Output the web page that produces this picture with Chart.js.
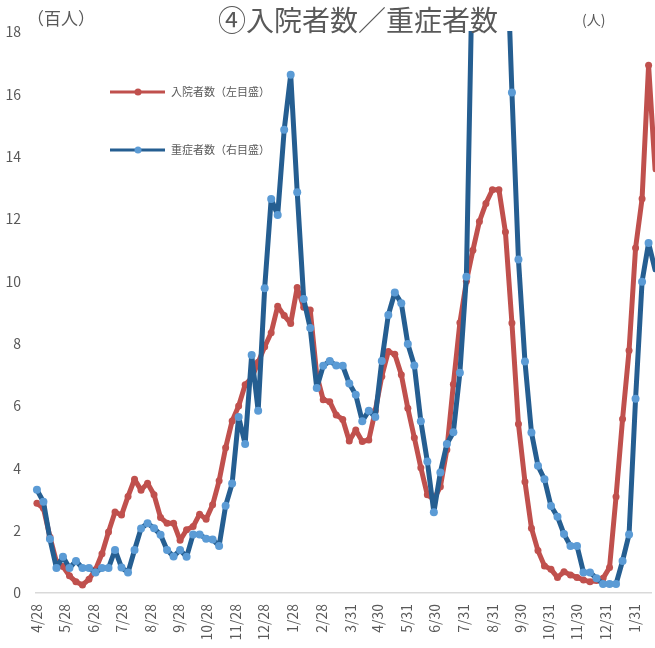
<!DOCTYPE html>
<html lang="ja">
<head>
<meta charset="utf-8">
<title>④入院者数／重症者数</title>
<script src="https://cdn.jsdelivr.net/npm/chart.js@4.4.1/dist/chart.umd.min.js"></script>
<style>
  html, body { margin: 0; padding: 0; background: #fff; overflow: hidden; }
  #wrap { width: 655px; height: 648px; position: relative; }
</style>
</head>
<body>
<div id="wrap"><canvas id="chart"></canvas></div>
<script>
// weekly values, first week = 2020/4/28
const startDate = '2020-04-28';

// 入院者数 (百人) - left axis
const inpatients = [
  2.88, 2.72, 1.8, 1.0, 0.85, 0.55, 0.36, 0.26, 0.44, 0.75,
  1.26, 1.96, 2.6, 2.5, 3.1, 3.65, 3.3, 3.52, 3.15, 2.42,
  2.24, 2.24, 1.69, 2.03, 2.13, 2.53, 2.37, 2.83, 3.6, 4.66,
  5.52, 6.0, 6.68, 6.9, 7.4, 7.9, 8.35, 9.2, 8.9, 8.65,
  9.8, 9.17, 9.08, 7.0, 6.2, 6.14, 5.71, 5.57, 4.88, 5.23,
  4.86, 4.91, 5.85, 6.95, 7.75, 7.66, 7.0, 5.93, 4.98, 4.02,
  3.15, 3.0, 3.41, 4.6, 6.7, 8.67, 10.0, 11.0, 11.92, 12.5,
  12.94, 12.94, 11.58, 8.66, 5.42, 3.57, 2.08, 1.36, 0.87, 0.76,
  0.5, 0.68, 0.58, 0.5, 0.42, 0.36, 0.4, 0.47, 0.82, 3.09,
  5.58, 7.78, 11.07, 12.65, 16.93, 13.58
];

// 重症者数 - right axis (read in left-axis units, right ticks are cut off)
const severe = [
  3.31, 2.93, 1.73, 0.8, 1.16, 0.8, 1.03, 0.8, 0.8, 0.66,
  0.8, 0.8, 1.38, 0.82, 0.66, 1.38, 2.07, 2.24, 2.08, 1.87,
  1.38, 1.17, 1.38, 1.16, 1.88, 1.88, 1.74, 1.72, 1.51, 2.8,
  3.51, 5.65, 4.78, 7.64, 5.85, 9.78, 12.64, 12.13, 14.86, 16.63,
  12.86, 9.43, 8.5, 6.58, 7.29, 7.44, 7.3, 7.29, 6.72, 6.36,
  5.51, 5.85, 5.65, 7.44, 8.92, 9.64, 9.3, 7.99, 7.3, 5.51,
  4.22, 2.59, 3.87, 4.78, 5.16, 7.07, 10.15, 21, 24, 26,
  27, 25, 22, 16.06, 10.7, 7.43, 5.15, 4.08, 3.65, 2.79,
  2.45, 1.89, 1.51, 1.51, 0.66, 0.66, 0.47, 0.29, 0.29, 0.29,
  1.03, 1.88, 6.23, 9.99, 11.23, 10.37
];

// dates shown on the x axis
const tickDates = [
  '2020-04-28', '2020-05-28', '2020-06-28', '2020-07-28', '2020-08-28',
  '2020-09-28', '2020-10-28', '2020-11-28', '2020-12-28', '2021-01-28',
  '2021-02-28', '2021-03-31', '2021-04-30', '2021-05-31', '2021-06-30',
  '2021-07-31', '2021-08-31', '2021-09-30', '2021-10-31', '2021-11-30',
  '2021-12-31', '2022-01-31'
];

const titleText = '④入院者数／重症者数';
const leftUnit = '（百人）';
const rightUnit = '(人)';

const FONT = '"Noto Sans CJK JP", "Noto Sans", sans-serif';
const TEXT = '#595959';
const DAY = 86400000;

function daysFromStart(s) {
  return (Date.parse(s) - Date.parse(startDate)) / DAY;
}
const tickDays = tickDates.map(daysFromStart);
const tickLabels = tickDates.map(s => {
  const [, m, d] = s.split('-');
  return Number(m) + '/' + Number(d);
});

const chartTexts = {
  id: 'chartTexts',
  afterDraw(chart) {
    const c = chart.ctx;
    const area = chart.chartArea;
    c.save();
    c.fillStyle = TEXT;
    c.textBaseline = 'middle';

    c.font = '28px ' + FONT;
    c.textAlign = 'center';
    c.fillText(titleText, 358, 20);

    c.textAlign = 'left';
    c.font = '17px ' + FONT;
    c.fillText(leftUnit, 27, 19);
    c.font = '14px ' + FONT;
    c.fillText(rightUnit, 582, 20);

    // legend inside the plot
    chart.data.datasets.forEach((ds, k) => {
      const y = area.top + 60 + k * 58;
      const x0 = area.left + 74;
      c.strokeStyle = ds.borderColor;
      c.lineWidth = 3;
      c.beginPath();
      c.moveTo(x0, y);
      c.lineTo(x0 + 55, y);
      c.stroke();
      c.fillStyle = ds.pointBackgroundColor;
      c.beginPath();
      c.arc(x0 + 28, y, 3.5, 0, Math.PI * 2);
      c.fill();
      c.fillStyle = TEXT;
      c.font = '11px ' + FONT;
      c.fillText(ds.label, x0 + 61, y);
    });
    c.restore();
  }
};

const lineStyle = {
  pointBorderWidth: 0,
  borderWidth: 5,
  borderJoinStyle: 'round',
  borderCapStyle: 'round',
  tension: 0,
  clip: { left: 6, right: 8, top: 1, bottom: 6 }
};

const ctx = document.getElementById('chart').getContext('2d');
new Chart(ctx, {
  type: 'line',
  data: {
    datasets: [
      {
        ...lineStyle,
        label: '入院者数（左目盛）',
        data: inpatients.map((v, i) => ({ x: i * 7, y: v })),
        yAxisID: 'y',
        borderColor: '#C0504D',
        backgroundColor: '#C0504D',
        pointBackgroundColor: '#C0504D',
        pointBorderColor: '#C0504D',
        pointRadius: 3.5,
        order: 2
      },
      {
        ...lineStyle,
        label: '重症者数（右目盛）',
        data: severe.map((v, i) => ({ x: i * 7, y: v })),
        yAxisID: 'y1',
        borderColor: '#255E91',
        backgroundColor: '#5B9BD5',
        pointBackgroundColor: '#5B9BD5',
        pointBorderColor: '#5B9BD5',
        pointRadius: 4,
        order: 1
      }
    ]
  },
  options: {
    responsive: true,
    maintainAspectRatio: false,
    animation: false,
    layout: { padding: { top: 32, left: 0, right: 0, bottom: 0 } },
    scales: {
      x: {
        type: 'linear',
        min: -1,
        max: 660.6,
        grid: { display: false, drawTicks: false },
        border: { color: '#D9D9D9', width: 1.5 },
        ticks: {
          autoSkip: false,
          minRotation: 90,
          maxRotation: 90,
          padding: 11,
          color: TEXT,
          font: { family: FONT, size: 14 },
          callback: (value, index) => tickLabels[index]
        },
        afterBuildTicks: scale => {
          scale.ticks = tickDays.map(d => ({ value: d }));
        },
        afterFit: scale => {
          scale.height = 55;
          // plot runs off the right edge, like the cropped original
          scale.paddingLeft = 0;
          scale.paddingRight = 0;
        }
      },
      y: {
        min: 0,
        max: 18,
        grid: { display: false, drawTicks: false },
        border: { display: false },
        ticks: {
          stepSize: 2,
          padding: 15,
          color: TEXT,
          font: { family: FONT, size: 14 }
        },
        afterFit: scale => { scale.width = 36; }
      },
      y1: {
        position: 'right',
        display: false,
        min: 0,
        max: 18
      }
    },
    plugins: {
      legend: { display: false },
      tooltip: { enabled: false }
    }
  },
  plugins: [chartTexts]
});
</script>
</body>
</html>
